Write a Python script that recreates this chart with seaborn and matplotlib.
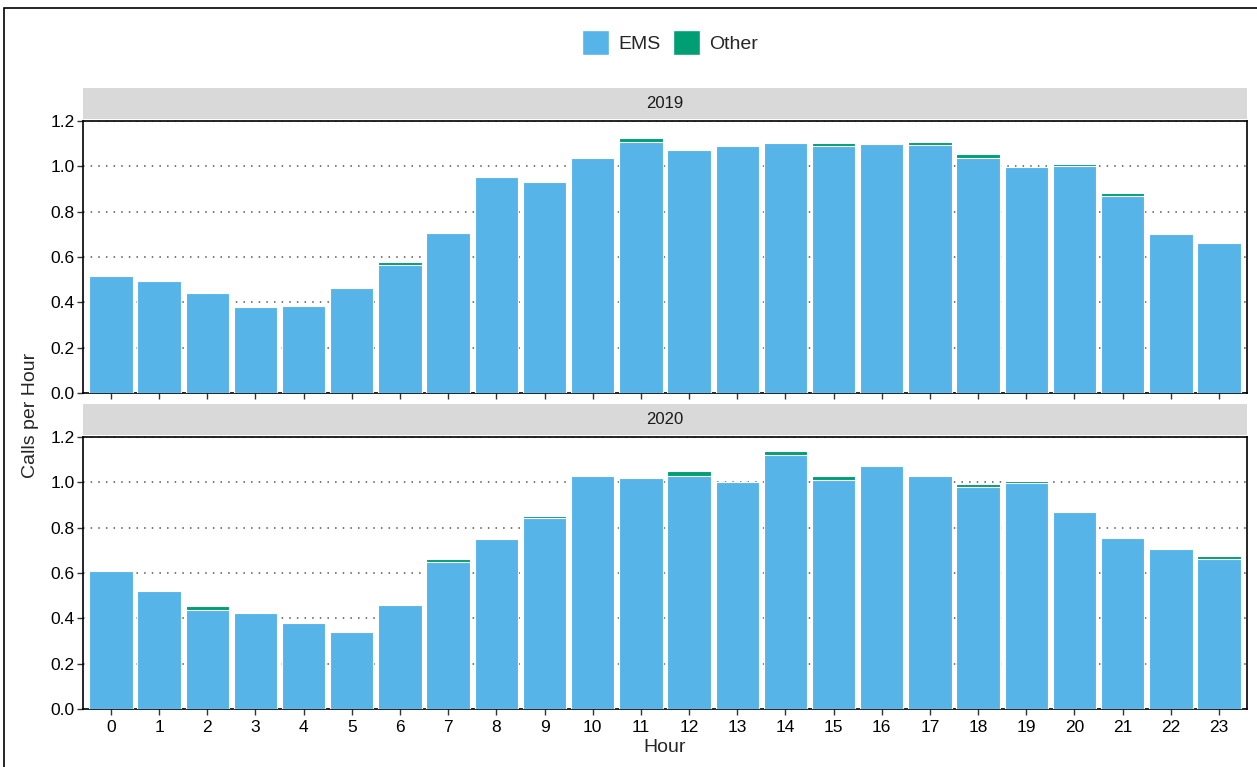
import numpy as np
import pandas as pd
import seaborn as sns
import matplotlib.pyplot as plt
from matplotlib.patches import Patch, Rectangle

# ---- data (calls per hour) ----
hours = list(range(24))
years = ["2019", "2020"]

ems_2019 = [0.516, 0.496, 0.443, 0.381, 0.385, 0.464, 0.566, 0.708, 0.951, 0.929,
            1.037, 1.108, 1.074, 1.089, 1.104, 1.092, 1.098, 1.096, 1.037, 0.997,
            1.000, 0.870, 0.702, 0.661]
other_2019 = [0.0, 0.0, 0.0, 0.0, 0.0, 0.0, 0.010, 0.0, 0.0, 0.0,
              0.006, 0.017, 0.0, 0.0, 0.0, 0.010, 0.0, 0.010, 0.019, 0.0,
              0.010, 0.012, 0.0, 0.0]

ems_2020 = [0.609, 0.520, 0.437, 0.423, 0.380, 0.338, 0.457, 0.650, 0.748, 0.844,
            1.026, 1.018, 1.029, 1.002, 1.120, 1.012, 1.074, 1.026, 0.978, 0.999,
            0.869, 0.754, 0.706, 0.662]
other_2020 = [0.0, 0.0, 0.017, 0.0, 0.0, 0.0, 0.0, 0.010, 0.0, 0.006,
              0.0, 0.0, 0.019, 0.0, 0.020, 0.015, 0.0, 0.0, 0.013, 0.008,
              0.0, 0.0, 0.0, 0.015]

ems_color = "#56B4E9"
other_color = "#009E73"

frames = []
for yr, ems, oth in [("2019", ems_2019, other_2019), ("2020", ems_2020, other_2020)]:
    d = pd.DataFrame({"Hour": hours, "EMS": ems, "Other": oth})
    d["Year"] = yr
    d["Total"] = d["EMS"] + d["Other"]
    frames.append(d)
df = pd.concat(frames, ignore_index=True)

# ---- figure ----
sns.set_style("white")
plt.rcParams["font.family"] = ["Liberation Sans", "DejaVu Sans"]

fig = plt.figure(figsize=(12.57, 7.67), dpi=100)
# outer frame
fig.patches.append(Rectangle((0.003, -0.01), 1.02, 1.0, transform=fig.transFigure,
                             fill=False, edgecolor="black", linewidth=1.2, zorder=0))

ax_top = fig.add_axes([0.066, 0.4876, 0.926, 0.3546])
ax_bot = fig.add_axes([0.066, 0.0756, 0.926, 0.3546])

for ax, yr in [(ax_top, "2019"), (ax_bot, "2020")]:
    sub = df[df["Year"] == yr]
    for y in np.arange(0, 1.21, 0.2):
        ax.axhline(y, color="#555555", linestyle=(0, (1, 4)), linewidth=1.1, zorder=0)
    sns.barplot(data=sub, x="Hour", y="Total", color=other_color, saturation=1,
                edgecolor="white", linewidth=0.8, width=0.9, errorbar=None, ax=ax, zorder=2)
    sns.barplot(data=sub, x="Hour", y="EMS", color=ems_color, saturation=1,
                edgecolor="white", linewidth=0.8, width=0.9, errorbar=None, ax=ax, zorder=3)
    ax.set_ylim(0, 1.2)
    ax.set_xlim(-0.58, 23.58)
    ax.set_yticks(np.arange(0, 1.21, 0.2))
    ax.set_yticklabels([f"{v:.1f}" for v in np.arange(0, 1.21, 0.2)], fontsize=12.5, color="black")
    ax.set_xlabel("")
    ax.set_ylabel("")
    for s in ax.spines.values():
        s.set_visible(True)
        s.set_color("black")
        s.set_linewidth(1.2)
    ax.tick_params(axis="both", direction="out", length=4, width=1, color="#333333",
                   left=True, bottom=True, pad=2)
    # facet strip
    ax.add_patch(Rectangle((0, 1.008), 1, 0.112, transform=ax.transAxes, clip_on=False,
                           facecolor="#D9D9D9", edgecolor="none"))
    ax.text(0.5, 1.064, yr, transform=ax.transAxes, ha="center", va="center",
            fontsize=12, color="#1A1A1A")

ax_top.tick_params(axis="x", labelbottom=False)
ax_bot.set_xticks(hours)
ax_bot.set_xticklabels([str(h) for h in hours], fontsize=12.5, color="black")
ax_bot.tick_params(axis="x", pad=4)
ax_bot.set_xlabel("Hour", fontsize=14, labelpad=3)

fig.text(0.024, 0.458, "Calls per Hour", rotation=90, ha="center", va="center", fontsize=14)

handles = [Patch(facecolor=ems_color, label="EMS"), Patch(facecolor=other_color, label="Other")]
fig.legend(handles=handles, loc="center", bbox_to_anchor=(0.533, 0.944), ncol=2, frameon=False,
           fontsize=14, handlelength=1.4, handleheight=1.6, handletextpad=0.5, columnspacing=0.6)

fig.savefig("out.png", dpi=100)
